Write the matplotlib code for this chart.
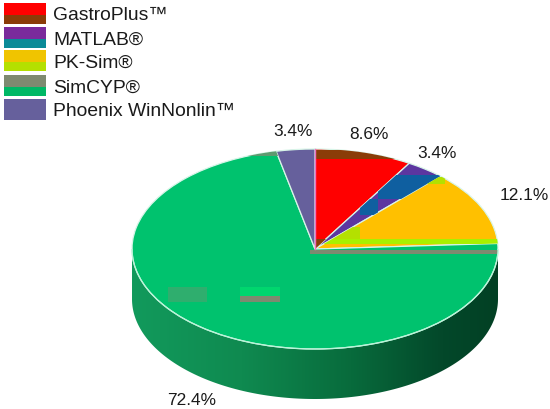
import numpy as np
import matplotlib
matplotlib.use('Agg')
import matplotlib.pyplot as plt
from matplotlib.colors import LinearSegmentedColormap
from matplotlib.patches import Wedge, Rectangle, Polygon, Arc
from matplotlib.transforms import Affine2D

plt.rcParams['font.family'] = ['Liberation Sans', 'DejaVu Sans']

names = ['GastroPlus™', 'MATLAB®', 'PK-Sim®', 'SimCYP®', 'Phoenix WinNonlin™']
values = [8.6, 3.4, 12.1, 72.4, 3.4]
labels = ['8.6%', '3.4%', '12.1%', '72.4%', '3.4%']
colors = ['#ff0000', '#5c36a0', '#ffc000', '#00c26e', '#66609c']
swatch_low = ['#8a3c08', '#0a8a98', '#b4e000', '#00b865', '#66609c']
swatch_top = ['#ff0000', '#7a2a9c', '#f0c400', '#7e8a70', '#66609c']
label_pos = [(369, 135), (437, 154), (524, 196), (192, 401), (293, 132)]

# pie geometry in picture pixels
cx, cy, a, b, depth = 315, 250, 183, 100, 50

fig = plt.figure(figsize=(5.5, 4.1), dpi=100)
ax = fig.add_axes([0, 0, 1, 1])

# side wall, dark gradient clipped to the extruded half ellipse
t = np.linspace(0, np.pi, 200)
wall = np.r_[np.c_[cx + a * np.cos(t), cy + depth + b * np.sin(t)],
             [[cx - a, cy]], [[cx + a, cy]]]
wall_patch = Polygon(wall, closed=True, fc='none', ec='none')
ax.add_patch(wall_patch)
wall_cmap = LinearSegmentedColormap.from_list('wall', [(0, '#129a5c'), (0.3, '#0f8a50'), (0.6, '#086b3c'),
                                                       (0.85, '#03482a'), (1, '#024024')])
img = ax.imshow(np.linspace(0, 1, 256)[None, :], cmap=wall_cmap, aspect='auto',
                extent=(cx - a, cx + a, cy + depth + b, cy), zorder=1)
img.set_clip_path(wall_patch)
ax.set_xlim(0, 550)
ax.set_ylim(410, 0)
ax.axis('off')

# top face
to_px = Affine2D().scale(a, b).translate(cx, cy) + ax.transData
edges = -90 + np.cumsum([0] + values) / sum(values) * 360
wedges = []
for i, c in enumerate(colors):
    w = Wedge((0, 0), 1, edges[i], edges[i + 1], fc=c, ec='#d8f5e8', lw=0.9, transform=to_px, zorder=2)
    ax.add_patch(w)
    wedges.append(w)

# compression-like colour bands inside the wedges
bands = [(0, 315, 151, 100, 9, '#8a3c08'), (0, 315, 240, 16, 10, '#8a3c08'),
         (1, 378, 176, 62, 24, '#0f5fa0'), (1, 360, 200, 18, 16, '#0f5fa0'),
         (2, 315, 240, 190, 5, '#a8f000'), (2, 330, 228, 30, 12, '#b4e000'), (2, 415, 178, 30, 7, '#b4e000'),
         (3, 310, 251, 190, 4, '#7e8a70'), (3, 130, 151, 185, 6, '#5f9a70'),
         (3, 168, 288, 39, 15, '#2fae6e'), (3, 240, 297, 40, 6, '#7e8a70'), (3, 240, 288, 40, 9, '#00d66e')]
for i, x, y, w, h, c in bands:
    r = Rectangle((x, y), w, h, fc=c, ec='none', zorder=3)
    ax.add_patch(r)
    r.set_clip_path(wedges[i])

# pale rim of the top face
rim = Arc((0, 0), 2, 2, theta1=0, theta2=180, ec='#b8f5d8', lw=0.9, transform=to_px, zorder=4)
ax.add_patch(rim)
ax.plot([cx, cx], [cy, cy - b], color='#f070c0', lw=1.0, zorder=4)

for (x, y), s in zip(label_pos, labels):
    ax.text(x, y, s, fontsize=12.4, color='#1a1a1a', ha='center', va='center', zorder=5)

# legend
legend_y = [4, 28, 51, 76, 100]
for y, name, top, low in zip(legend_y, names, swatch_top, swatch_low):
    ax.add_patch(Rectangle((4, y), 42, 12, fc=top, ec='none'))
    ax.add_patch(Rectangle((4, y + 12), 42, 8.5, fc=low, ec='none'))
    ax.text(53, y + 12, name, fontsize=13.9, color='#1a1a1a', ha='left', va='center')

fig.savefig('out.png', dpi=100)
